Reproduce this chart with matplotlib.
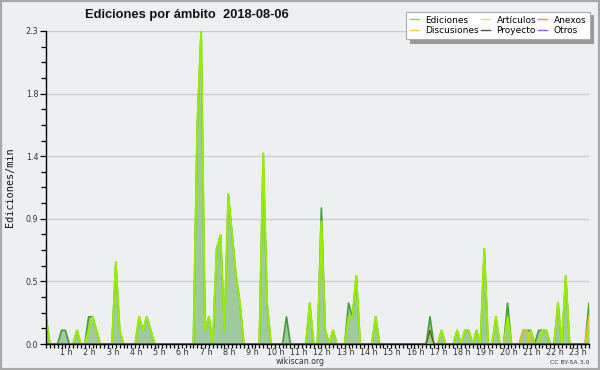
import numpy as np
import matplotlib
matplotlib.use("Agg")
import matplotlib.pyplot as plt
from matplotlib.lines import Line2D
from matplotlib.patches import Rectangle
from matplotlib.transforms import ScaledTranslation
from matplotlib.ticker import MultipleLocator, FixedLocator

# 10-minute bins from 00:00 (edits per minute)
ediciones = [
    0.2, 0, 0, 0, 0.1, 0.1, 0, 0, 0.1, 0, 0, 0.2,
    0.2, 0.1, 0, 0, 0, 0, 0.6, 0.1, 0, 0, 0, 0,
    0.2, 0.1, 0.2, 0.1, 0, 0, 0, 0, 0, 0, 0, 0,
    0, 0, 0, 1.6, 2.3, 0.1, 0.2, 0, 0.7, 0.8, 0.1, 1.1,
    0.8, 0.5, 0.3, 0, 0, 0, 0, 0, 1.4, 0.3, 0, 0,
    0, 0, 0.2, 0, 0, 0, 0, 0, 0.3, 0, 0, 1.0,
    0.1, 0, 0.1, 0, 0, 0, 0.3, 0.2, 0.5, 0, 0, 0,
    0, 0.2, 0, 0, 0, 0, 0, 0, 0, 0, 0, 0,
    0, 0, 0, 0.2, 0, 0, 0.1, 0, 0, 0, 0.1, 0,
    0.1, 0.1, 0, 0.1, 0, 0.7, 0, 0, 0.2, 0, 0, 0.3,
    0, 0, 0, 0.1, 0.1, 0.1, 0, 0.1, 0.1, 0.1, 0, 0,
    0.3, 0, 0.5, 0, 0, 0, 0, 0, 0.3,
]
articulos = [
    0.2, 0, 0, 0, 0, 0, 0, 0, 0.1, 0, 0, 0.1,
    0.2, 0.1, 0, 0, 0, 0, 0.6, 0.1, 0, 0, 0, 0,
    0.2, 0.1, 0.2, 0.1, 0, 0, 0, 0, 0, 0, 0, 0,
    0, 0, 0, 1.6, 2.3, 0.1, 0.2, 0, 0.7, 0.8, 0.1, 1.1,
    0.8, 0.5, 0.3, 0, 0, 0, 0, 0, 1.4, 0.3, 0, 0,
    0, 0, 0, 0, 0, 0, 0, 0, 0.3, 0, 0, 0.9,
    0.1, 0, 0.1, 0, 0, 0, 0.2, 0.2, 0.5, 0, 0, 0,
    0, 0.2, 0, 0, 0, 0, 0, 0, 0, 0, 0, 0,
    0, 0, 0, 0.1, 0, 0, 0.1, 0, 0, 0, 0.1, 0,
    0.1, 0.1, 0, 0.1, 0, 0.7, 0, 0, 0.2, 0, 0, 0.2,
    0, 0, 0, 0, 0, 0.1, 0, 0, 0.1, 0.1, 0, 0,
    0.3, 0, 0.5, 0, 0, 0, 0, 0, 0.1,
]
discusiones = [
    0, 0, 0, 0, 0, 0, 0, 0, 0, 0, 0, 0,
    0, 0, 0, 0, 0, 0, 0, 0, 0, 0, 0, 0,
    0, 0, 0, 0, 0, 0, 0, 0, 0, 0, 0, 0,
    0, 0, 0, 0, 0, 0, 0, 0, 0, 0, 0, 0,
    0, 0, 0, 0, 0, 0, 0, 0, 0, 0, 0, 0,
    0, 0, 0, 0, 0, 0, 0, 0, 0, 0, 0, 0,
    0, 0, 0, 0, 0, 0, 0, 0, 0, 0, 0, 0,
    0, 0, 0, 0, 0, 0, 0, 0, 0, 0, 0, 0,
    0, 0, 0, 0, 0, 0, 0, 0, 0, 0, 0, 0,
    0, 0, 0, 0, 0, 0, 0, 0, 0, 0, 0, 0,
    0, 0, 0, 0.1, 0.1, 0, 0, 0, 0, 0, 0, 0,
    0, 0, 0, 0, 0, 0, 0, 0, 0.2,
]
proyecto = [
    0, 0, 0, 0, 0, 0, 0, 0, 0, 0, 0, 0,
    0, 0, 0, 0, 0, 0, 0, 0, 0, 0, 0, 0,
    0, 0, 0, 0, 0, 0, 0, 0, 0, 0, 0, 0,
    0, 0, 0, 0, 0, 0, 0, 0, 0, 0, 0, 0,
    0, 0, 0, 0, 0, 0, 0, 0, 0, 0, 0, 0,
    0, 0, 0, 0, 0, 0, 0, 0, 0, 0, 0, 0,
    0, 0, 0, 0, 0, 0, 0, 0, 0, 0, 0, 0,
    0, 0, 0, 0, 0, 0, 0, 0, 0, 0, 0, 0,
    0, 0, 0, 0.1, 0, 0, 0, 0, 0, 0, 0, 0,
    0, 0, 0, 0, 0, 0, 0, 0, 0, 0, 0, 0,
    0, 0, 0, 0, 0, 0, 0, 0, 0, 0, 0, 0,
    0, 0, 0, 0, 0, 0, 0, 0, 0,
]

series_names = ["Ediciones", "Discusiones", "Artículos", "Proyecto", "Anexos", "Otros"]
legend_colors = ["#88cc88", "#ffcc44", "#ccee55", "#555555", "#ff8855", "#9955ee"]

hour_vals = list(range(1, 24))
hour_labels = [f"{h} h" for h in hour_vals]
ytick_vals = [0, 0.46, 0.92, 1.38, 1.84, 2.3]
ytick_labels = ["0.0", "0.5", "0.9", "1.4", "1.8", "2.3"]

BG = "#eeeff1"
fig = plt.figure(figsize=(6, 3.7), dpi=100, facecolor=BG)
W, H = 600, 370
ax = fig.add_axes([46 / W, 1 - 344 / H, 543 / W, 313 / H], facecolor=BG)

x = np.arange(len(ediciones))
ax.fill_between(x, ediciones, color="#9fc99f", lw=0, zorder=1)
ax.plot(x, ediciones, color="#40a035", lw=1.2, zorder=2)
ax.plot(x, articulos, color="#99ee00", lw=1.4, zorder=2.1)
ax.plot(x, discusiones, color="#f0c020", lw=1.2, zorder=2.2)
ax.plot(x, proyecto, color="#555544", lw=1.0, zorder=2.3)

ax.set_xlim(0, len(ediciones) - 1)
ax.set_ylim(0, 2.3)

ax.xaxis.set_major_locator(FixedLocator([6 * h for h in hour_vals]))
ax.set_xticklabels(hour_labels)
ax.xaxis.set_minor_locator(MultipleLocator(1))
ax.set_yticks(ytick_vals)
ax.set_yticklabels(ytick_labels)
ax.yaxis.set_minor_locator(MultipleLocator(0.115))

ax.tick_params(axis="both", which="both", direction="out", color="black",
               labelsize=5.8, labelcolor="#333333", width=0.9)
ax.tick_params(axis="x", which="both", length=3, pad=0)
ax.tick_params(axis="y", which="major", length=4.5, pad=1)
ax.tick_params(axis="y", which="minor", length=3.5)

off = ScaledTranslation(-3 / 100, 0, fig.dpi_scale_trans)
for lab in ax.get_xticklabels():
    lab.set_transform(lab.get_transform() + off)

ax.grid(axis="y", which="major", color="#cccccc", lw=1, zorder=0)
ax.set_axisbelow(True)
for s in ["top", "right"]:
    ax.spines[s].set_visible(False)
for s in ["left", "bottom"]:
    ax.spines[s].set_color("black")
    ax.spines[s].set_linewidth(1)
    ax.spines[s].set_zorder(3)

ax.set_ylabel("Ediciones/min", fontfamily="DejaVu Sans Mono", fontsize=7.3,
              color="#111111", labelpad=8)

fig.text(187 / W, 1 - 15 / H, "Ediciones por ámbito  2018-08-06",
         ha="center", va="center", fontfamily="Liberation Sans",
         fontweight="bold", fontsize=9.3, color="#111111")

fig.text(300 / W, 1 - 362 / H, "wikiscan.org", ha="center", va="center",
         fontsize=5.6, color="#333333")
fig.text(589 / W, 1 - 362.5 / H, "CC BY-SA 3.0", ha="right", va="center",
         fontsize=4.4, color="#333333")

handles = [Line2D([], [], color=c, lw=1) for c in legend_colors]
leg = fig.legend(handles, series_names, ncol=3, loc="upper right",
                 bbox_to_anchor=(590 / W, 1 - 12 / H),
                 fontsize=6.5, frameon=True, fancybox=False,
                 shadow={"color": "#9a9a9a", "alpha": 1, "ox": 2.5, "oy": -2.5},
                 edgecolor="#aaaaaa", facecolor="white", framealpha=1,
                 handlelength=1.0, handletextpad=0.7, columnspacing=0.25,
                 labelspacing=0.2, borderpad=0.4, borderaxespad=0)
leg.get_frame().set_linewidth(0.8)

fig.patches.append(Rectangle((0, 0), 1, 1, transform=fig.transFigure,
                             fill=False, ec="#a8a8a8", lw=3, zorder=10))

fig.savefig("out.png", dpi=100, facecolor=BG)
